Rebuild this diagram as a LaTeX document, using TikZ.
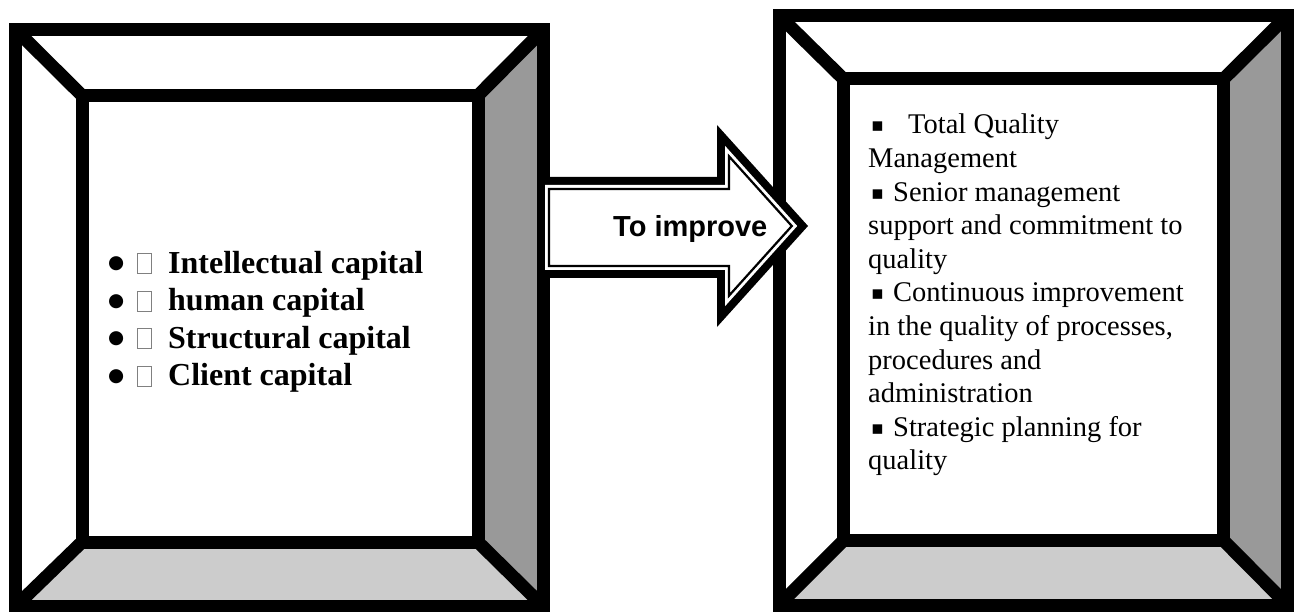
\documentclass[tikz,border=0pt]{standalone}
\usepackage{fontspec}
\setmainfont{Liberation Serif}
\newfontfamily\arialf{Liberation Sans}
\newfontfamily\djv{DejaVu Sans}
\definecolor{panelR}{HTML}{999999}
\definecolor{panelB}{HTML}{CCCCCC}
\newcommand\tofubox{{\color{gray}\fboxsep=0pt\fboxrule=0.8pt\fbox{\rule{0pt}{19pt}\hspace{13.4pt}}}}
\newcommand\sqb{\raisebox{2pt}{\djv\fontsize{19}{19}\selectfont\char"25AA}}
\newcommand\bigdot{\raisebox{4.5pt}{\djv\fontsize{18.5}{18.5}\selectfont\char"25CF}}
\newcommand\bevframe[8]{%
  \fill[white] (#1,#2) -- (#3,#2) -- (#7,#6) -- (#5,#6) -- cycle;
  \fill[white] (#1,#2) -- (#5,#6) -- (#5,#8) -- (#1,#4) -- cycle;
  \fill[panelR] (#3,#2) -- (#3,#4) -- (#7,#8) -- (#7,#6) -- cycle;
  \fill[panelB] (#1,#4) -- (#3,#4) -- (#7,#8) -- (#5,#8) -- cycle;
  \fill[white] (#5,#6) rectangle (#7,#8);
  \draw[frame] (#1,#2) rectangle (#3,#4);
  \draw[frame] (#5,#6) rectangle (#7,#8);
  \draw[frame] (#1,#2) -- (#5,#6) (#3,#2) -- (#7,#6) (#3,#4) -- (#7,#8) (#1,#4) -- (#5,#8);
}
\begin{document}
\begin{tikzpicture}[x=1pt,y=-1pt,
  frame/.style={line width=13pt, line join=miter, draw=black},
  txt/.style={anchor=base west, inner sep=0pt}]
\useasboundingbox[fill=white] (0,0) rectangle (1295,612);

% left bevel frame
\bevframe{15.5}{29.5}{543.5}{606.5}{82}{95.5}{478}{542}
% right bevel frame
\bevframe{779}{15.5}{1287.5}{605}{843.5}{79}{1223.5}{540.5}

% arrow
\fill[black] (537,177) -- (717,177) -- (717,125) -- (808,226) -- (717,327) -- (717,278) -- (537,278) -- cycle;
\fill[white] (545,185) -- (725,185) -- (725,145.8) -- (797.2,226) -- (725,306.2) -- (725,270) -- (545,270) -- cycle;
\draw[line width=2.2pt, line join=miter] (549,189) -- (729,189) -- (729,156.3) -- (791.8,226) -- (729,295.7) -- (729,266) -- (549,266) -- cycle;
\node[txt, font=\arialf\bfseries\fontsize{29}{34}\selectfont] (lbl) at (613,237) {To improve};

% left text
\node[txt, font=\fontsize{32}{37.6}\selectfont\bfseries] (ltext) at (108,273) {%
\begin{tabular}[t]{@{}l@{}}
\makebox[29pt][l]{\bigdot}\makebox[31pt][l]{\tofubox}Intellectual capital\\
\makebox[29pt][l]{\bigdot}\makebox[31pt][l]{\tofubox}human capital\\
\makebox[29pt][l]{\bigdot}\makebox[31pt][l]{\tofubox}Structural capital\\
\makebox[29pt][l]{\bigdot}\makebox[31pt][l]{\tofubox}Client capital
\end{tabular}};

% right text
\node[txt, font=\fontsize{28.5}{33.6}\selectfont] (rtext) at (868,134) {%
\begin{tabular}[t]{@{}l@{}}
\makebox[40pt][l]{\hspace{3pt}\sqb}Total Quality\\
Management\\
\makebox[25pt][l]{\hspace{3pt}\sqb}Senior management\\
support and commitment to\\
quality\\
\makebox[25pt][l]{\hspace{3pt}\sqb}Continuous improvement\\
in the quality of processes,\\
procedures and\\
administration\\
\makebox[25pt][l]{\hspace{3pt}\sqb}Strategic planning for\\
quality
\end{tabular}};
\end{tikzpicture}
\end{document}
